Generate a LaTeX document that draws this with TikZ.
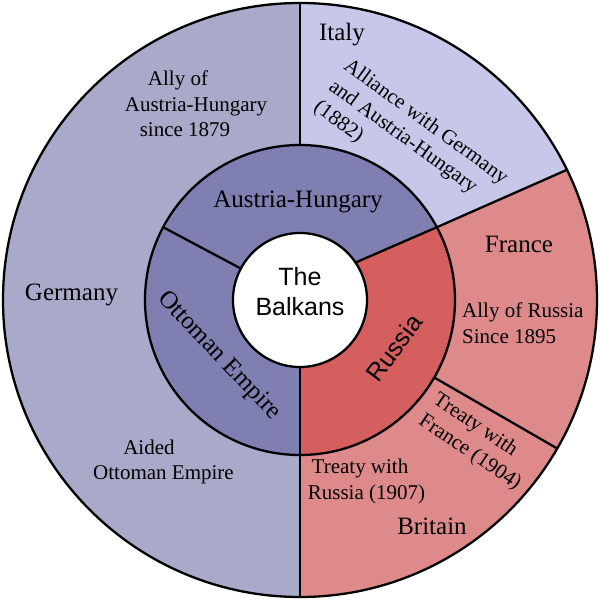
\documentclass[tikz,border=0pt]{standalone}
\usepackage{fontspec}
\setmainfont{Liberation Serif}
\newfontfamily\balksans{Liberation Sans}
\definecolor{germanyc}{HTML}{A9A9CA}
\definecolor{italyc}{HTML}{C7C7E9}
\definecolor{centralc}{HTML}{7F7FB2}
\definecolor{russiac}{HTML}{D55E5E}
\definecolor{ententec}{HTML}{DE8A8A}
\tikzset{
  border/.style={draw=black, line width=2.3pt},
  bigser/.style={font=\fontsize{25}{30}\selectfont, inner sep=0pt, align=center},
  smallser/.style={font=\fontsize{21}{25.5}\selectfont, inner sep=0pt, align=center},
  bigsans/.style={font=\balksans\fontsize{25}{30}\selectfont, inner sep=0pt, align=center},
}
\begin{document}
\begin{tikzpicture}[x=1pt,y=1pt]
\useasboundingbox (-300,-300) rectangle (300,300);
% outer ring sectors
\fill[germanyc] (0,0) -- (90:297pt) arc[start angle=90,end angle=270,radius=297pt] -- cycle;
\fill[italyc] (0,0) -- (90:297pt) arc[start angle=90,end angle=26,radius=297pt] -- (28:155pt) -- cycle;
\fill[ententec] (0,0) -- (28:155pt) -- (26:297pt) arc[start angle=26,end angle=-90,radius=297pt] -- cycle;
% inner ring sectors
\fill[centralc] (0,0) -- (34:67pt) -- (28:155pt) arc[start angle=28,end angle=270,radius=155pt] -- cycle;
\fill[russiac] (0,0) -- (-90:155pt) arc[start angle=-90,end angle=28,radius=155pt] -- (34:67pt) -- cycle;
% outlines
\draw[border] (0,0) circle[radius=297pt];
\draw[border] (0,0) circle[radius=155pt];
\draw[border] (90:155pt) -- (90:297pt);
\draw[border] (28:155pt) -- (26:297pt);
\draw[border] (-30:155pt) -- (-30:297pt);
\draw[border] (270:67pt) -- (270:297pt);
\draw[border] (34:67pt) -- (28:155pt);
\draw[border] (152:67pt) -- (152:155pt);
\draw[border, fill=white] (0,0) circle[radius=67pt];
% labels
\node[bigsans] (balkans) at (0,8) {The\\Balkans};
\node[bigser] (austria) at (-2,98) {Austria-Hungary};
\node[bigser, rotate=-46.5] (ottoman) at (-81,-56) {Ottoman Empire};
\node[bigsans, rotate=53] (russia) at (94,-48) {Russia};
\node[bigser] (italy) at (42,265) {Italy};
\node[smallser, align=left, rotate=-36] (italynote) at (110.5,157) {Alliance with Germany\\and Austria-Hungary\\(1882)};
\node[bigser] (germany) at (-228.5,5) {Germany};
\node[smallser] (germanynote) at (-104,196) {Ally of\hspace*{36pt}\mbox{}\\Austria-Hungary\\since 1879\hspace*{22pt}\mbox{}};
\node[smallser] (aided) at (-136.5,-162) {Aided\hspace*{29pt}\mbox{}\\Ottoman Empire};
\node[bigser] (france) at (219,56) {France};
\node[smallser, align=left, anchor=west] (francenote) at (162,-23) {Ally of Russia\\Since 1895};
\node[smallser, align=left, rotate=-34] (treatyfr) at (177,-142) {Treaty with\\France (1904)};
\node[smallser] (treatyru) at (66.5,-181.5) {Treaty with\hspace*{13pt}\mbox{}\\Russia (1907)};
\node[bigser] (britain) at (132,-226.5) {Britain};
\end{tikzpicture}
\end{document}
